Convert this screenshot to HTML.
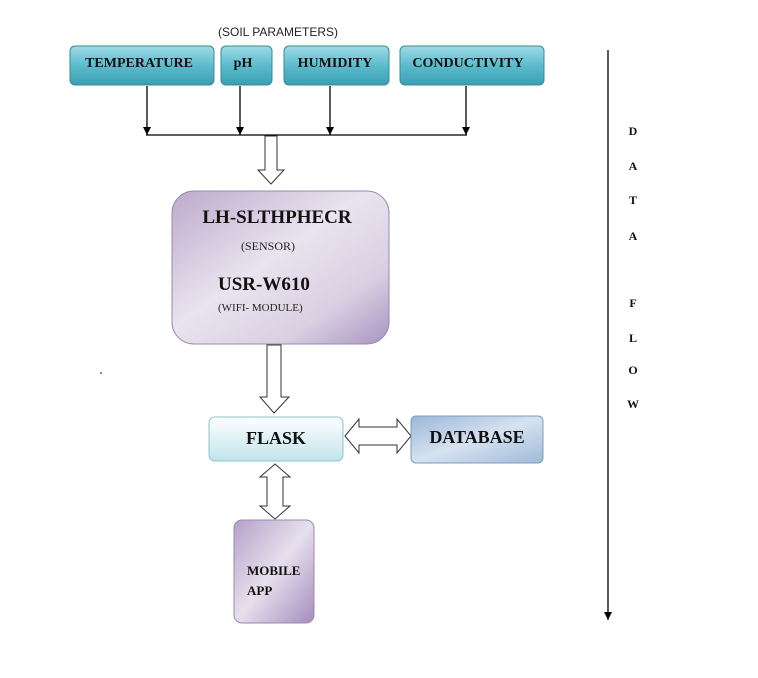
<!DOCTYPE html>
<html><head><meta charset="utf-8"><style>
html,body{margin:0;padding:0;background:#fff;}
svg{display:block;font-family:"Liberation Serif",serif;}
</style></head><body>
<svg width="758" height="678" viewBox="0 0 758 678" xmlns="http://www.w3.org/2000/svg">
<defs>
<linearGradient id="teal" x1="0" y1="0" x2="0" y2="1">
<stop offset="0" stop-color="#9fdbe6"/><stop offset="0.5" stop-color="#5cbccd"/><stop offset="1" stop-color="#3a9fb3"/>
</linearGradient>
<linearGradient id="purp" x1="0" y1="0" x2="1" y2="1">
<stop offset="0" stop-color="#bca9cc"/><stop offset="0.45" stop-color="#e9e4ef"/><stop offset="0.75" stop-color="#d9cfe2"/><stop offset="1" stop-color="#a993c2"/>
</linearGradient>
<linearGradient id="flask" x1="0" y1="0" x2="0" y2="1">
<stop offset="0" stop-color="#ffffff"/><stop offset="1" stop-color="#bfe4ea"/>
</linearGradient>
<linearGradient id="db" x1="0" y1="0" x2="1" y2="1">
<stop offset="0" stop-color="#9ab6d8"/><stop offset="0.5" stop-color="#d6e2f0"/><stop offset="1" stop-color="#9fbad8"/>
</linearGradient>
<linearGradient id="mob" x1="0" y1="0" x2="1" y2="1">
<stop offset="0" stop-color="#b6a0c8"/><stop offset="0.5" stop-color="#e6e0ed"/><stop offset="1" stop-color="#a48cbd"/>
</linearGradient>
<marker id="ah" markerWidth="8" markerHeight="8" refX="8" refY="4" orient="auto" markerUnits="userSpaceOnUse">
<path d="M0,0 L8,4 L0,8 z" fill="#000"/>
</marker>
</defs>

<text x="278" y="36" font-size="12" font-family="Liberation Sans,sans-serif" text-anchor="middle" fill="#222">(SOIL  PARAMETERS)</text>

<g stroke="#3b8898" stroke-width="1">
<rect x="70" y="46" width="144" height="39" rx="5" fill="url(#teal)"/>
<rect x="221" y="46" width="51" height="39" rx="5" fill="url(#teal)"/>
<rect x="284" y="46" width="105" height="39" rx="5" fill="url(#teal)"/>
<rect x="400" y="46" width="144" height="39" rx="5" fill="url(#teal)"/>
</g>
<g font-size="14" font-weight="bold" fill="#111" text-anchor="middle">
<text x="139" y="67">TEMPERATURE</text>
<text x="243" y="67">pH</text>
<text x="335" y="67">HUMIDITY</text>
<text x="468" y="67">CONDUCTIVITY</text>
</g>

<g stroke="#000" stroke-width="1.3" fill="none">
<line x1="147" y1="86" x2="147" y2="135" marker-end="url(#ah)"/>
<line x1="240" y1="86" x2="240" y2="135" marker-end="url(#ah)"/>
<line x1="330" y1="86" x2="330" y2="135" marker-end="url(#ah)"/>
<line x1="466" y1="86" x2="466" y2="135" marker-end="url(#ah)"/>
<line x1="146" y1="135" x2="467" y2="135"/>
</g>

<path d="M265,136 L277,136 L277,170 L284,170 L271,184 L258,170 L265,170 z" fill="#fff" stroke="#333" stroke-width="1"/>

<rect x="172" y="191" width="217" height="153" rx="22" fill="url(#purp)" stroke="#9b88b0" stroke-width="1"/>
<text x="277" y="223" font-size="19" font-weight="bold" text-anchor="middle" fill="#111">LH-SLTHPHECR</text>
<text x="268" y="250" font-size="12" text-anchor="middle" fill="#222">(SENSOR)</text>
<text x="218" y="290" font-size="19" font-weight="bold" fill="#111">USR-W610</text>
<text x="218" y="311" font-size="11" fill="#222">(WIFI- MODULE)</text>

<path d="M267,345 L281,345 L281,397 L289,397 L274,413 L260,397 L267,397 z" fill="#fff" stroke="#333" stroke-width="1"/>

<rect x="209" y="417" width="134" height="44" rx="6" fill="url(#flask)" stroke="#8cc3cc" stroke-width="1"/>
<text x="276" y="444" font-size="18" font-weight="bold" text-anchor="middle" fill="#111">FLASK</text>

<path d="M345,436 L359,419 L359,427 L397,427 L397,419 L411,436 L397,453 L397,445 L359,445 L359,453 z" fill="#fff" stroke="#333" stroke-width="1"/>

<rect x="411" y="416" width="132" height="47" rx="5" fill="url(#db)" stroke="#7f9bbd" stroke-width="1"/>
<text x="477" y="443" font-size="18" font-weight="bold" text-anchor="middle" fill="#111">DATABASE</text>

<path d="M275,464 L290,477 L283,477 L283,506 L290,506 L275,519 L260,506 L267,506 L267,477 L260,477 z" fill="#fff" stroke="#333" stroke-width="1"/>

<rect x="234" y="520" width="80" height="103" rx="8" fill="url(#mob)" stroke="#9c88b2" stroke-width="1"/>
<text x="247" y="575" font-size="13" font-weight="bold" fill="#111">MOBILE</text>
<text x="247" y="595" font-size="13" font-weight="bold" fill="#111">APP</text>

<circle cx="101" cy="373" r="0.8" fill="#000"/>

<line x1="608" y1="50" x2="608" y2="620" stroke="#000" stroke-width="1.3" marker-end="url(#ah)"/>
<g font-size="12" font-weight="bold" text-anchor="middle" fill="#111">
<text x="633" y="135">D</text>
<text x="633" y="170">A</text>
<text x="633" y="204">T</text>
<text x="633" y="240">A</text>
<text x="633" y="307">F</text>
<text x="633" y="342">L</text>
<text x="633" y="374">O</text>
<text x="633" y="408">W</text>
</g>
</svg>
</body></html>
